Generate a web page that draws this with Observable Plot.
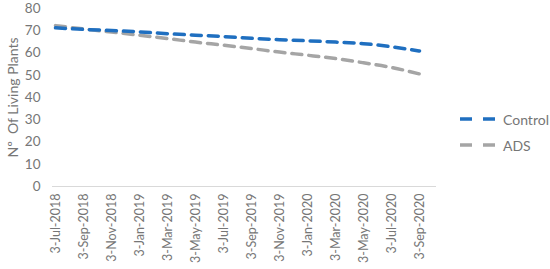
<!DOCTYPE html>
<html><head><meta charset="utf-8">
<script src="https://cdn.jsdelivr.net/npm/d3@7"></script>
<script src="https://cdn.jsdelivr.net/npm/@observablehq/plot@0.6"></script>
<style>
body{margin:0;background:#fff;font-family:Lato,"Open Sans",sans-serif;}
#wrap{position:relative;width:550px;height:269px;}
#legend{position:absolute;left:460px;top:106px;font-size:14px;color:#767676;}
#legend div{display:flex;align-items:center;height:26px;}
#legend svg{margin-right:7px;}
</style></head>
<body><div id="wrap"><div id="chart"></div><div id="legend"></div></div>
<script>
const dates = ["3-Jul-2018","3-Sep-2018","3-Nov-2018","3-Jan-2019","3-Mar-2019","3-May-2019","3-Jul-2019","3-Sep-2019","3-Nov-2019","3-Jan-2020","3-Mar-2020","3-May-2020","3-Jul-2020","3-Sep-2020"];
const control = [71.3,70.6,70.1,69.5,68.7,68.0,67.4,66.6,66.0,65.5,64.9,64.2,62.8,60.9];
const ads = [72.3,70.8,69.4,68.0,66.5,64.9,63.5,62.0,60.4,59.0,57.5,55.6,53.5,50.6];
const seriesNames = ["Control","ADS"];
const colors = ["#1F6FC0","#A5A5A5"];
const yTicks = [0,10,20,30,40,50,60,70,80];

const data = [];
dates.forEach((d,i)=>{data.push({date:d,value:control[i],series:"Control"});data.push({date:d,value:ads[i],series:"ADS"});});

const chart = Plot.plot({
  width:550,height:269,
  marginLeft:53,marginRight:130,marginTop:8,marginBottom:83,
  style:{fontFamily:"Lato, 'Open Sans', sans-serif",color:"#767676",background:"#fff"},
  x:{type:"point",domain:dates,padding:0},
  y:{domain:[0,80]},
  color:{domain:seriesNames,range:colors},
  marks:[
    Plot.ruleY([0],{stroke:"#D9D9D9",strokeWidth:1,insetLeft:-1,insetRight:-16}),
    Plot.axisY({ticks:yTicks,tickSize:0,tickPadding:13,fontSize:13.5,fill:"#767676",label:null}),
    Plot.axisX({tickSize:0,tickRotate:-90,tickPadding:7,fontSize:12.5,fill:"#767676",label:null}),
    Plot.text(["Nº  Of Living Plants"],{frameAnchor:"left",textAnchor:"middle",dx:-40,rotate:-90,fontSize:14,fill:"#767676"}),
    Plot.line(data.filter(d=>d.series==="ADS"),{x:"date",y:"value",stroke:"series",strokeWidth:3.5,strokeDasharray:"10,7",curve:"monotone-x"}),
    Plot.line(data.filter(d=>d.series==="Control"),{x:"date",y:"value",stroke:"series",strokeWidth:3.5,strokeDasharray:"10,7",curve:"monotone-x"})
  ]
});
document.getElementById("chart").appendChild(chart);

const leg = document.getElementById("legend");
seriesNames.forEach((s,i)=>{
  const div=document.createElement("div");
  div.innerHTML=`<svg width="36" height="6"><line x1="0" y1="3" x2="36" y2="3" stroke="${colors[i]}" stroke-width="3.5" stroke-dasharray="12,11"/></svg><span>${s}</span>`;
  leg.appendChild(div);
});
</script></body></html>
